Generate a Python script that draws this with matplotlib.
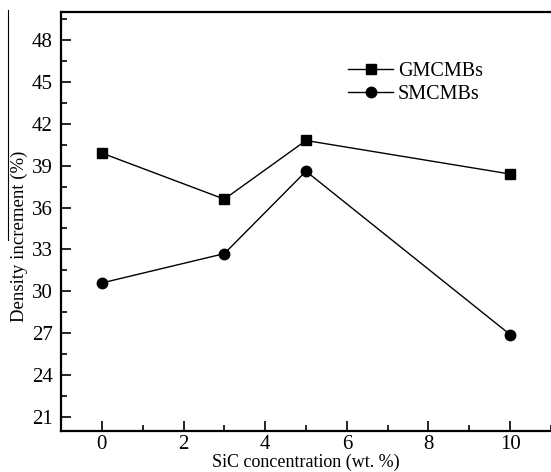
import matplotlib.pyplot as plt
from matplotlib.lines import Line2D
from matplotlib.ticker import MultipleLocator

plt.rcParams['font.family'] = ['Liberation Serif', 'DejaVu Serif']

# data
sic = [0, 3, 5, 10]
gmcmbs = [39.9, 36.6, 40.8, 38.4]
smcmbs = [30.6, 32.7, 38.6, 26.9]

fig = plt.figure(figsize=(5.51, 4.72), dpi=100)
ax = fig.add_axes([61/551, 41/472, 1 - 61/551, 419/472])

ax.plot(sic, gmcmbs, 'k-s', lw=1.0, ms=6.5, label='GMCMBs')
ax.plot(sic, smcmbs, 'k-o', lw=1.0, ms=7.5, label='SMCMBs')

ax.set_xlim(-1, 11)
ax.set_ylim(20, 50)
ax.xaxis.set_major_locator(MultipleLocator(2))
ax.xaxis.set_minor_locator(MultipleLocator(1))
ax.set_yticks(range(21, 49, 3))
ax.yaxis.set_minor_locator(MultipleLocator(1.5))
ax.tick_params(which='both', direction='in', width=1.2, labelsize=15)
ax.tick_params(axis='y', pad=6)
ax.tick_params(axis='x', pad=3)
ax.tick_params(which='major', length=7)
ax.tick_params(which='minor', length=4)
ax.tick_params(axis='y', which='both', left=True, right=False)
ax.tick_params(axis='x', which='both', top=False)
for s in ['left', 'bottom', 'top']:
    ax.spines[s].set_linewidth(1.6)
ax.spines['right'].set_visible(False)

ax.set_xlabel('SiC concentration (wt. %)', fontsize=13, labelpad=0)
ax.set_ylabel('Density increment (%)', fontsize=13.5)
ax.yaxis.set_label_coords(-0.068, 0.465)

ax.legend(loc='upper left', bbox_to_anchor=(0.57, 0.90), frameon=False,
          fontsize=14.5, handlelength=2.2, handletextpad=0.25,
          labelspacing=0.2, borderaxespad=0)

# thin border line at the far left of the scan
fig.add_artist(Line2D([8/551, 8/551], [1 - 10/472, 1 - 240/472],
                      color='k', lw=0.8, transform=fig.transFigure))

fig.savefig('out.png', dpi=100)
